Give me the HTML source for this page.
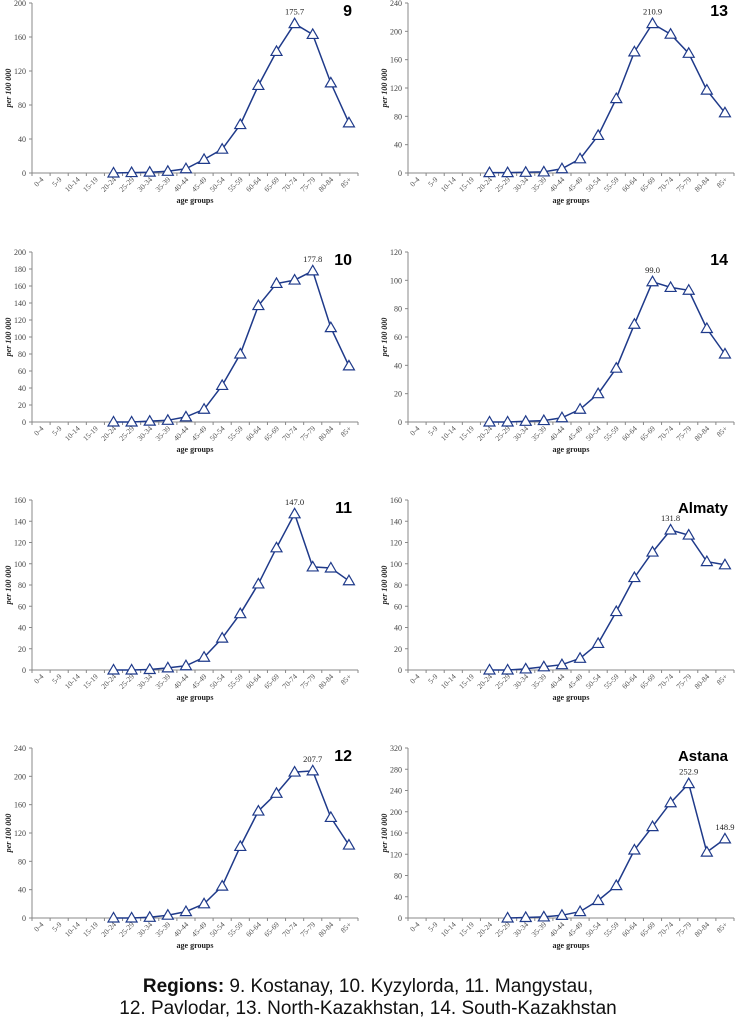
<!DOCTYPE html>
<html><head><meta charset="utf-8">
<style>
body{margin:0;background:#fff;width:736px;height:1021px;overflow:hidden;}
svg{display:block}
.cap{position:absolute;left:0;width:736px;text-align:center;font-family:"Liberation Sans",sans-serif;font-size:19px;color:#111;line-height:22px;}
</style></head><body>
<svg id="chart" width="736" height="960" style="position:absolute;left:0;top:0"></svg>
<div class="cap" style="top:976px"><b>Regions:</b> 9. Kostanay, 10. Kyzylorda, 11. Mangystau,</div>
<div class="cap" style="top:998px">12. Pavlodar, 13. North-Kazakhstan, 14. South-Kazakhstan</div>
<script>
const categories=["0-4","5-9","10-14","15-19","20-24","25-29","30-34","35-39","40-44","45-49","50-54","55-59","60-64","65-69","70-74","75-79","80-84","85+"];
const titles=["9","13","10","14","11","Almaty","12","Astana"];
const startIdx=[4,4,4,4,4,4,4,5];
const yMax=[200,240,200,120,160,160,240,320];
const yStep=[40,40,20,20,20,20,40,40];
const s9=[0,0.5,1,2,5,16,28,57,103,143,175.7,163,106,59];
const s13=[0.5,0.5,1,1.5,6,20,53,105,171,210.9,196,169,117,85];
const s10=[0,0,1,2,6,15,43,80,137,163,167,177.8,111,66];
const s14=[0,0,0.5,1,3,9,20,38,69,99.0,95,93,66,48];
const s11=[0,0,0.5,2,4,12,30,53,81,115,147.0,97,96,84];
const sAlmaty=[0,0,1,3,5,11,25,55,87,111,131.8,127,102,99];
const s12=[0,0,1,4,9,20,45,101,151,176,206,207.7,142,103];
const sAstana=[0,1,2,5,12,33,61,128,172,217,252.9,124,148.9];
const series=[s9,s13,s10,s14,s11,sAlmaty,s12,sAstana];
const labelIdx=[[10],[9],[11],[9],[10],[10],[11],[10,12]];

const NS="http://www.w3.org/2000/svg";
const svg=document.getElementById('chart');
function el(tag,attrs,parent){const e=document.createElementNS(NS,tag);for(const k in attrs)e.setAttribute(k,attrs[k]);(parent||svg).appendChild(e);return e;}
const colX=[32,408], rowTop=[3,252,500,748], H=170, W=326;
const serif='"Liberation Serif",serif';
for(let p=0;p<8;p++){
  const x0=colX[p%2], top=rowTop[Math.floor(p/2)], bot=top+H;
  const g=el('g',{});
  
  
  const xs=i=>x0+W/18*(i+0.5);
  const ys=v=>bot-v/yMax[p]*H;
  const ax=el('line',{x1:x0,y1:top,x2:x0,y2:bot,stroke:'#888','stroke-width':1},g);
  
  const bx=el('line',{x1:x0,y1:bot,x2:x0+W,y2:bot,stroke:'#888','stroke-width':1},g);
  
  for(let v=0;v<=yMax[p];v+=yStep[p]){
    el('line',{x1:x0-3,y1:ys(v),x2:x0,y2:ys(v),stroke:'#888'},g);
    const t=el('text',{x:x0-6,y:ys(v)+3,'text-anchor':'end','font-family':serif,'font-size':8,fill:'#444'},g);
    t.textContent=v;
    
  }
  for(let i=0;i<=18;i++)el('line',{x1:x0+W/18*i,y1:bot,x2:x0+W/18*i,y2:bot+3,stroke:'#888'},g);
  categories.forEach((c,i)=>{
    const t=el('text',{x:xs(i)+3,y:bot+7,'text-anchor':'end','font-family':serif,'font-size':7.5,fill:'#555',transform:`rotate(-45 ${xs(i)+3} ${bot+7})`},g);
    t.textContent=c;
    
  });
  const xt=el('text',{x:x0+163,y:bot+30,'text-anchor':'middle','font-family':serif,'font-size':8,'font-weight':'bold',fill:'#222'},g);
  xt.textContent='age groups';
  
  const yt=el('text',{x:0,y:0,'text-anchor':'middle','font-family':serif,'font-size':8,'font-weight':'bold','font-style':'italic',fill:'#222',transform:`translate(${x0-21} ${top+H/2}) rotate(-90)`},g);
  yt.textContent='per 100 000';
  
  const tt=el('text',{x:x0+W-6,y:top+13,'text-anchor':'end','font-family':'"Liberation Sans",sans-serif','font-size':titles[p].length>2?15:16,'font-weight':'bold',fill:'#000'},g);
  tt.textContent=titles[p];
  
  const d=series[p], st=startIdx[p];
  const pts=d.map((v,k)=>xs(st+k).toFixed(1)+','+ys(v).toFixed(1)).join(' ');
  const pl=el('polyline',{points:pts,fill:'none',stroke:'#1f3a8a','stroke-width':1.5},g);
  
  d.forEach((v,k)=>{
    const cx=xs(st+k), cy=ys(v);
    const m=el('polygon',{points:`${cx},${cy-5.5} ${cx-5.5},${cy+4} ${cx+5.5},${cy+4}`,fill:'#fff',stroke:'#1f3a8a','stroke-width':1.2},g);
    
  });
  labelIdx[p].forEach(k=>{
    const lt=el('text',{x:xs(st+k),y:ys(d[k])-9,'text-anchor':'middle','font-family':serif,'font-size':8.5,fill:'#222'},g);
    lt.textContent=d[k].toFixed(1);
    
  });
}
</script>
</body></html>
